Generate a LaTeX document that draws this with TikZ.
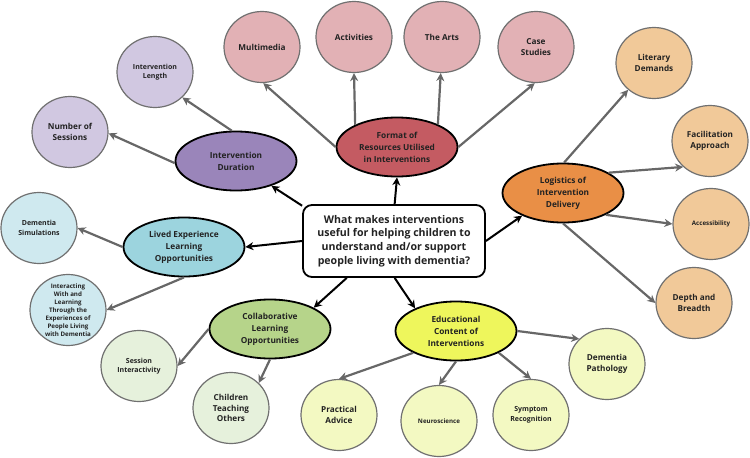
\documentclass[tikz,border=0pt]{standalone}
\usepackage{fontspec}
\setmainfont{Open Sans}
\usetikzlibrary{shapes.geometric,arrows.meta}
\definecolor{durM}{HTML}{9A85BA}
\definecolor{durL}{HTML}{D1C8E1}
\definecolor{fmtM}{HTML}{C45B62}
\definecolor{fmtL}{HTML}{E2B1B5}
\definecolor{logM}{HTML}{E98F46}
\definecolor{logL}{HTML}{F1C999}
\definecolor{livM}{HTML}{9CD4DE}
\definecolor{livL}{HTML}{CFE9EF}
\definecolor{colM}{HTML}{B6D48A}
\definecolor{colL}{HTML}{E6F1DC}
\definecolor{eduM}{HTML}{EEF65C}
\definecolor{eduL}{HTML}{F3F9C2}
\definecolor{arrgray}{HTML}{676767}
\definecolor{leafline}{HTML}{707070}
\definecolor{txt}{HTML}{222222}
\begin{document}
\begin{tikzpicture}[x=1pt,y=-1pt,
  box/.style={rectangle, rounded corners=9pt, draw=black, line width=1.8pt, fill=white,
    minimum width=182pt, minimum height=72pt, inner sep=0pt, align=center, text=txt,
    font=\bfseries\fontsize{10.6}{13.7}\selectfont},
  mainnode/.style={ellipse, draw=black, line width=1.8pt, minimum width=121pt, minimum height=59pt,
    inner sep=0pt, align=center, text=txt, font=\bfseries\fontsize{8.3}{12}\selectfont},
  leaf/.style={ellipse, draw=leafline, line width=1.2pt, minimum width=76pt, minimum height=71pt,
    inner sep=0pt, align=center, text=txt, font=\bfseries\fontsize{8.2}{10.5}\selectfont},
  leafsmall/.style={leaf, font=\bfseries\fontsize{7}{9.5}\selectfont},
  leaftiny/.style={leaf, font=\bfseries\fontsize{6.2}{8}\selectfont},
  garr/.style={draw=arrgray, line width=2.2pt, -{Stealth[length=8pt,width=8pt]}},
  barr/.style={draw=black, line width=2pt, -{Stealth[length=8pt,width=8pt]}}
]
\useasboundingbox (0,0) rectangle (750,458);

% central question
\node[box] (q) at (394,241) {What makes interventions\\useful for helping children to\\understand and/or support\\people living with dementia?};

% main themes
\node[mainnode, fill=durM] (dur) at (236,161) {Intervention\\Duration};
\node[mainnode, fill=fmtM] (fmt) at (397,147) {Format of\\Resources Utilised\\in Interventions};
\node[mainnode, fill=logM] (log) at (563,193) {Logistics of\\Intervention\\Delivery};
\node[mainnode, fill=livM] (liv) at (184,247) {Lived Experience\\Learning\\Opportunities};
\node[mainnode, fill=colM] (col) at (270,329) {Collaborative\\Learning\\Opportunities};
\node[mainnode, fill=eduM] (edu) at (456,331) {Educational\\Content of\\Interventions};

% leaves
\node[leafsmall, fill=durL] (len) at (155,72) {Intervention\\Length};
\node[leaf, fill=durL] (ses) at (70,132) {Number of\\Sessions};
\node[leaf, fill=fmtL] (mm) at (262,47) {Multimedia};
\node[leaf, fill=fmtL] (act) at (354,37) {Activities};
\node[leaf, fill=fmtL] (arts) at (442,37) {The Arts};
\node[leaf, fill=fmtL] (case) at (536,47) {Case\\Studies};
\node[leaf, fill=logL] (lit) at (654,63) {Literary\\Demands};
\node[leaf, fill=logL] (fac) at (710,141) {Facilitation\\Approach};
\node[leaftiny, fill=logL] (acc) at (711,224) {Accessibility};
\node[leaf, fill=logL] (dep) at (694,303) {Depth and\\Breadth};
\node[leafsmall, fill=livL] (sim) at (39,228) {Dementia\\Simulations};
\node[leaftiny, fill=livL, inner ysep=-5pt] (int) at (68,310) {Interacting\\With and\\Learning\\Through the\\Experiences of\\People Living\\with Dementia};
\node[leafsmall, fill=colL] (ses2) at (139,366) {Session\\Interactivity};
\node[leaf, fill=colL] (chi) at (231,408) {Children\\Teaching\\Others};
\node[leaf, fill=eduL] (pra) at (339,415) {Practical\\Advice};
\node[leaftiny, fill=eduL] (neu) at (439,421) {Neuroscience};
\node[leafsmall, fill=eduL] (sym) at (531,415) {Symptom\\Recognition};
\node[leaf, fill=eduL] (pat) at (607,364) {Dementia\\Pathology};

% central arrows
\draw[barr] (q.159) -- (dur.-35);
\draw[barr] (q.89) -- (fmt.south);
\draw[barr] (q.east) -- (log.209);
\draw[barr] (q.west) -- (liv.east);
\draw[barr] (q.218) -- (col.26);
\draw[barr] (q.271) -- (edu.151);

% theme arrows
\draw[garr] (dur.98) -- (len.-43);
\draw[garr] (dur.182) -- (ses.-2);
\draw[garr] (fmt.180) -- (mm.272);
\draw[garr] (fmt.152) -- (act.south);
\draw[garr] (fmt.29) -- (arts.268);
\draw[garr] (fmt.east) -- (case.268);
\draw[garr] (log.88) -- (lit.226);
\draw[garr] (log.24) -- (fac.224);
\draw[garr] (log.-27) -- (acc.west);
\draw[garr] (log.south) -- (dep.west);
\draw[garr] (liv.west) -- (sim.east);
\draw[garr] (liv.south) -- (int.east);
\draw[garr] (col.west) -- (ses2.east);
\draw[garr] (col.south) -- (chi.42);
\draw[garr] (edu.207) -- (pra.north);
\draw[garr] (edu.south) -- (neu.north);
\draw[garr] (edu.-27) -- (sym.north);
\draw[garr] (edu.east) -- (pat.138);
\end{tikzpicture}
\end{document}
